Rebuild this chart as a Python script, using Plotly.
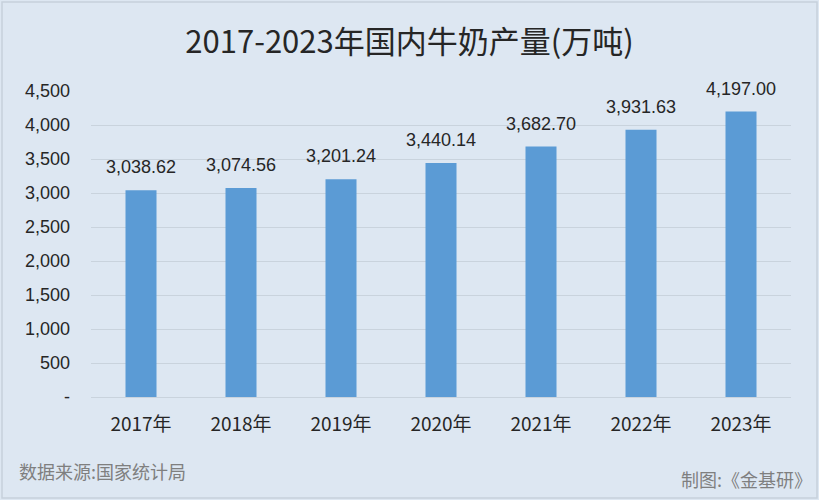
import plotly.graph_objects as go

categories = ["2017年", "2018年", "2019年", "2020年", "2021年", "2022年", "2023年"]
values = [3038.62, 3074.56, 3201.24, 3440.14, 3682.70, 3931.63, 4197.00]
y_tickvals = [0, 500, 1000, 1500, 2000, 2500, 3000, 3500, 4000, 4500]
y_ticktext = ["-", "500", "1,000", "1,500", "2,000", "2,500", "3,000", "3,500", "4,000", "4,500"]
title_text = "2017-2023年国内牛奶产量(万吨)"
source_text = "数据来源:国家统计局"
credit_text = "制图:《金基研》"

BG = "#DDE7F2"
GRID = "#C9D3DD"
TXT = "#262626"
NUMFONT = "Liberation Sans, Arial, Noto Sans CJK SC"
CJKFONT = "Noto Sans CJK SC, Liberation Sans"

W, H = 819, 500
L, R, T, B = 91, 28, 91, 103
pw, ph = W - L - R, H - T - B

fig = go.Figure()
fig.add_trace(go.Bar(
    x=categories, y=values,
    marker=dict(color="#5B9BD5", line=dict(width=0)),
    width=0.31,
    hoverinfo="skip",
))

for c, v in zip(categories, values):
    fig.add_annotation(
        x=c, y=v, xref="x", yref="y",
        text=f"{v:,.2f}", showarrow=False,
        yanchor="middle", yshift=23,
        font=dict(family=NUMFONT, size=18, color=TXT),
    )

fig.add_annotation(
    x=(17 - L) / pw, y=(H - B - 471) / ph, xref="paper", yref="paper",
    xanchor="left", yanchor="middle", showarrow=False,
    text=source_text, font=dict(family=CJKFONT, size=18, color="#7F7F7F"),
)
fig.add_annotation(
    x=(814 - L) / pw, y=(H - B - 479) / ph, xref="paper", yref="paper",
    xanchor="right", yanchor="middle", showarrow=False,
    text=credit_text, font=dict(family=CJKFONT, size=18, color="#7F7F7F"),
)

# outer border
fig.add_shape(
    type="rect", xref="paper", yref="paper",
    x0=(2 - L) / pw, x1=(W - 2 - L) / pw,
    y0=(H - B - (H - 2)) / ph, y1=(H - B - 2) / ph,
    line=dict(color="#C6D1DC", width=1.5), fillcolor="rgba(0,0,0,0)", layer="below",
)

fig.update_layout(
    width=W, height=H,
    margin=dict(l=L, r=R, t=T, b=B),
    paper_bgcolor=BG, plot_bgcolor=BG,
    showlegend=False,
    title=dict(
        text=title_text, x=0.5, xanchor="center", xref="container",
        y=1 - 42 / H, yanchor="middle", yref="container",
        font=dict(family=CJKFONT, size=31, color=TXT),
    ),
    xaxis=dict(
        showgrid=False, showline=False, zeroline=False,
        tickfont=dict(family=CJKFONT, size=19, color=TXT),
        ticks="", ticklabelstandoff=14,
    ),
    yaxis=dict(
        range=[0, 4500],
        tickvals=y_tickvals, ticktext=y_ticktext,
        showgrid=True, gridcolor=GRID, gridwidth=1,
        zeroline=True, zerolinecolor=GRID, zerolinewidth=1,
        showline=False, ticks="",
        tickfont=dict(family=NUMFONT, size=18, color=TXT),
        ticklabelstandoff=20,
    ),
)

fig.write_html(
    "out.html",
    config={"displayModeBar": False, "staticPlot": True},
    post_script="document.body.style.margin='0';document.body.style.background='" + BG + "';",
)
